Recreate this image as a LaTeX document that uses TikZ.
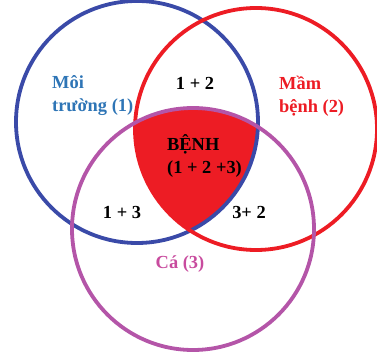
\documentclass[tikz,border=0pt]{standalone}
\usepackage{fontspec}
\setmainfont{Liberation Serif}
\usepackage{tikz}

\definecolor{ringblue}{RGB}{58,74,168}
\definecolor{ringred}{RGB}{237,28,36}
\definecolor{ringpurple}{RGB}{180,85,168}
\definecolor{txtblue}{RGB}{46,117,182}
\definecolor{txtpink}{RGB}{200,75,158}

\begin{document}
\begin{tikzpicture}[x=1pt, y=-1pt, ring/.style = {line width=3.8pt}, lbl/.style = {font=\bfseries\fontsize{18.4}{23}\selectfont, inner sep=0pt, align=left}]
            \useasboundingbox (0,0) rectangle (377,352);

            % triple overlap
            \begin{scope}
                \clip (137,122) circle (121);
                \clip (256,129) circle (121);
                \fill[ringred] (193,228) circle (121);
            \end{scope}

            \draw[ring, ringblue] (137,122) circle (121);
            \draw[ring, ringred] (256,129) circle (121);
            \draw[ring, ringpurple] (193,229) circle (121);

            \node[lbl, txtblue, anchor=west] (env) at (52,96) {Môi\\trường (1)};
            \node[lbl, ringred, anchor=west] (germ) at (279,96) {Mầm\\bệnh (2)};
            \node[lbl, txtpink] (fish) at (180,264) {Cá (3)};

            \node[lbl] (e12) at (195,83) {1 + 2};
            \node[lbl] (e13) at (122,212) {1 + 3};
            \node[lbl] (e32) at (249,212) {3+ 2};
            \node[lbl, anchor=west] (sick) at (167,156) {BỆNH\\(1 + 2 +3)};
        \end{tikzpicture}
\end{document}
